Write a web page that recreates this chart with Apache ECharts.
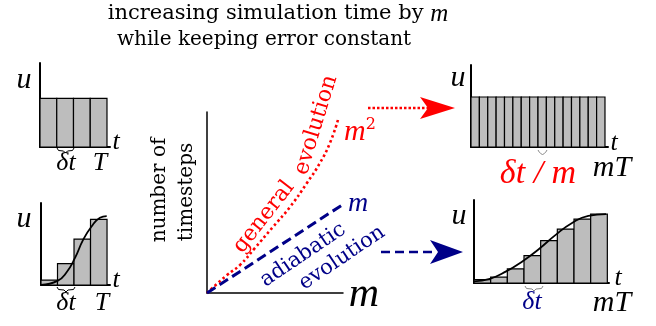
<!DOCTYPE html>
<html>
<head>
<meta charset="utf-8">
<script src="https://cdn.jsdelivr.net/npm/echarts@6/dist/echarts.min.js"></script>
<style>
  html, body { margin: 0; padding: 0; background: #fff; }
  #main { width: 656px; height: 326px; }
</style>
</head>
<body>
<div id="main"></div>
<script>
// bar heights (fraction of the u axis) for the four small plots
var barsConstT = [0.58, 0.58, 0.58, 0.58];
var barsRampT = [0.06, 0.26, 0.56, 0.80];
var barsConstMT = [0.61, 0.61, 0.61, 0.61, 0.61, 0.61, 0.61, 0.61,
                   0.61, 0.61, 0.61, 0.61, 0.61, 0.61, 0.61, 0.61];
var barsRampMT = [0.04, 0.07, 0.17, 0.33, 0.51, 0.65, 0.77, 0.83];

// smooth u(t) curves, [t, u]
var curveT = [[0, 0], [1, 0.05], [1.53, 0.15], [2.06, 0.33], [2.55, 0.55], [3.05, 0.71], [3.57, 0.82], [3.98, 0.84]];
var curveMT = [[0, 0.02], [0.95, 0.05], [1.93, 0.14], [2.9, 0.26], [3.9, 0.41], [4.9, 0.58], [5.86, 0.72], [6.86, 0.81], [7.92, 0.83]];

// timesteps vs m
var adiabatic = [[0, 0], [9.93, 4.86]];
var general = [[0, 0], [1.47, 0.99], [2.43, 1.55], [3.53, 2.49], [4.85, 3.65], [6.1, 4.75], [7.35, 6.08], [8.3, 7.18], [9.04, 8.29], [9.63, 9.56]];

var BLUE = '#000088';
var RED = '#ff0000';
var SERIF = '"DejaVu Serif"';
var MATH = '"Liberation Serif"';

var chart = echarts.init(document.getElementById('main'));

function axis(gi, max, w) {
    return {
        type: 'value', gridIndex: gi, min: 0, max: max,
        axisLine: { show: true, onZero: false, lineStyle: { color: '#000', width: w || 2 } },
        axisTick: { show: false }, axisLabel: { show: false }, splitLine: { show: false }
    };
}

function barSeries(gi, heights) {
    return {
        type: 'custom', xAxisIndex: gi, yAxisIndex: gi,
        data: heights.map(function (h, i) { return [i, h]; }),
        encode: { x: 0, y: 1 },
        renderItem: function (params, api) {
            var i = api.value(0), h = api.value(1);
            var p0 = api.coord([i, h]), p1 = api.coord([i + 1, 0]);
            return {
                type: 'rect',
                shape: { x: p0[0], y: p0[1], width: p1[0] - p0[0], height: p1[1] - p0[1] },
                style: { fill: '#bdbdbd', stroke: '#000', lineWidth: 1.2 }
            };
        },
        silent: true
    };
}

function curveSeries(gi, pts) {
    return {
        type: 'line', xAxisIndex: gi, yAxisIndex: gi, data: pts, smooth: true,
        showSymbol: false, lineStyle: { color: '#000', width: 1.8 }, z: 5, silent: true
    };
}

function txt(s, x, y, font, color, rot, rich) {
    return {
        type: 'text', x: x, y: y, rotation: (rot || 0) * Math.PI / 180,
        style: { text: s, font: font, fill: color || '#000', align: 'center', verticalAlign: 'middle', rich: rich }
    };
}

function brace(x0, x1, y, color) {
    var m = (x0 + x1) / 2;
    return {
        type: 'polyline',
        shape: { points: [[x0, y], [x0 + 1.5, y + 2.5], [m - 2, y + 3], [m, y + 5], [m + 2, y + 3], [x1 - 1.5, y + 2.5], [x1, y]] },
        style: { fill: null, stroke: color, lineWidth: 1 }
    };
}

var option = {
    animation: false,
    grid: [
        { left: 40, top: 63, width: 70, height: 84 },
        { left: 41, top: 203, width: 69, height: 82 },
        { left: 207, top: 112, width: 136, height: 181 },
        { left: 471, top: 65, width: 137, height: 82 },
        { left: 474, top: 200, width: 135, height: 83 }
    ],
    xAxis: [axis(0, 4.18), axis(1, 4.18), axis(2, 10, 1.5), axis(3, 16.36), axis(4, 8.1)],
    yAxis: [axis(0, 1), axis(1, 1), axis(2, 10, 1.5), axis(3, 1), axis(4, 1)],
    series: [
        barSeries(0, barsConstT),
        barSeries(1, barsRampT),
        curveSeries(1, curveT),
        barSeries(3, barsConstMT),
        barSeries(4, barsRampMT),
        curveSeries(4, curveMT),
        {
            type: 'line', xAxisIndex: 2, yAxisIndex: 2, data: general, smooth: true, showSymbol: false,
            lineStyle: { color: RED, width: 2.6, type: [2.5, 2.8] }, z: 3
        },
        {
            type: 'line', xAxisIndex: 2, yAxisIndex: 2, data: adiabatic, showSymbol: false,
            lineStyle: { color: BLUE, width: 3, type: [10, 5] }, z: 4
        }
    ],
    graphic: [
        txt('increasing simulation time by {i|m}', 278, 14, '21px ' + SERIF, '#000', 0,
            { i: { font: 'italic 25px ' + MATH } }),
        txt('while keeping error constant', 264, 40, '20px ' + SERIF, '#000'),

        txt('u', 24, 80, 'italic 30px ' + MATH),
        txt('t', 116, 142, 'italic 26px ' + MATH),
        txt('δt', 66, 163, 'italic 26px ' + MATH),
        txt('T', 100, 163, 'italic 26px ' + MATH),
        brace(57, 74, 148, '#000'),

        txt('u', 24, 219, 'italic 30px ' + MATH),
        txt('t', 116, 280, 'italic 26px ' + MATH),
        txt('δt', 66, 303, 'italic 26px ' + MATH),
        txt('T', 102, 303, 'italic 26px ' + MATH),
        brace(57, 75, 287, '#000'),

        txt('number of', 160, 190, '20px ' + SERIF, '#000', 90),
        txt('timesteps', 187, 192, '20px ' + SERIF, '#000', 90),
        txt('m', 364, 295, 'italic 42px ' + MATH),
        txt('m{s|2}', 360, 132, 'italic 30px ' + MATH, RED, 0,
            { s: { font: '16px ' + SERIF, fill: RED, verticalAlign: 'top', padding: [0, 0, 14, 0] } }),
        txt('m', 358, 204, 'italic 28px ' + MATH, BLUE),
        txt('general', 264, 217, '22px ' + SERIF, RED, 52),
        txt('evolution', 316, 125, '22px ' + SERIF, RED, 73),
        txt('adiabatic', 303, 255, '21px ' + SERIF, BLUE, 34),
        txt('evolution', 342, 258, '21px ' + SERIF, BLUE, 34),

        txt('u', 458, 78, 'italic 30px ' + MATH),
        txt('t', 614, 143, 'italic 26px ' + MATH),
        txt('δt / m', 538, 174, 'italic 34px ' + MATH, RED),
        txt('mT', 612, 168, 'italic 30px ' + MATH),
        brace(538, 547, 150, '#888'),

        txt('u', 459, 216, 'italic 30px ' + MATH),
        txt('t', 618, 278, 'italic 26px ' + MATH),
        txt('δt', 532, 302, 'italic 26px ' + MATH, BLUE),
        txt('mT', 612, 303, 'italic 30px ' + MATH),
        brace(525, 543, 286, '#888'),

        // arrows
        { type: 'line', shape: { x1: 368, y1: 108, x2: 428, y2: 108 },
          style: { stroke: RED, lineWidth: 2.5, lineDash: [2.5, 2] } },
        { type: 'polygon', shape: { points: [[455, 108], [420, 97], [428, 108], [420, 119]] }, style: { fill: RED } },
        { type: 'line', shape: { x1: 381, y1: 252, x2: 432, y2: 252 },
          style: { stroke: BLUE, lineWidth: 2.5, lineDash: [9, 5] } },
        { type: 'polygon', shape: { points: [[463, 252], [430, 240], [438, 252], [430, 264]] }, style: { fill: BLUE } }
    ]
};

chart.setOption(option);
</script>
</body>
</html>
